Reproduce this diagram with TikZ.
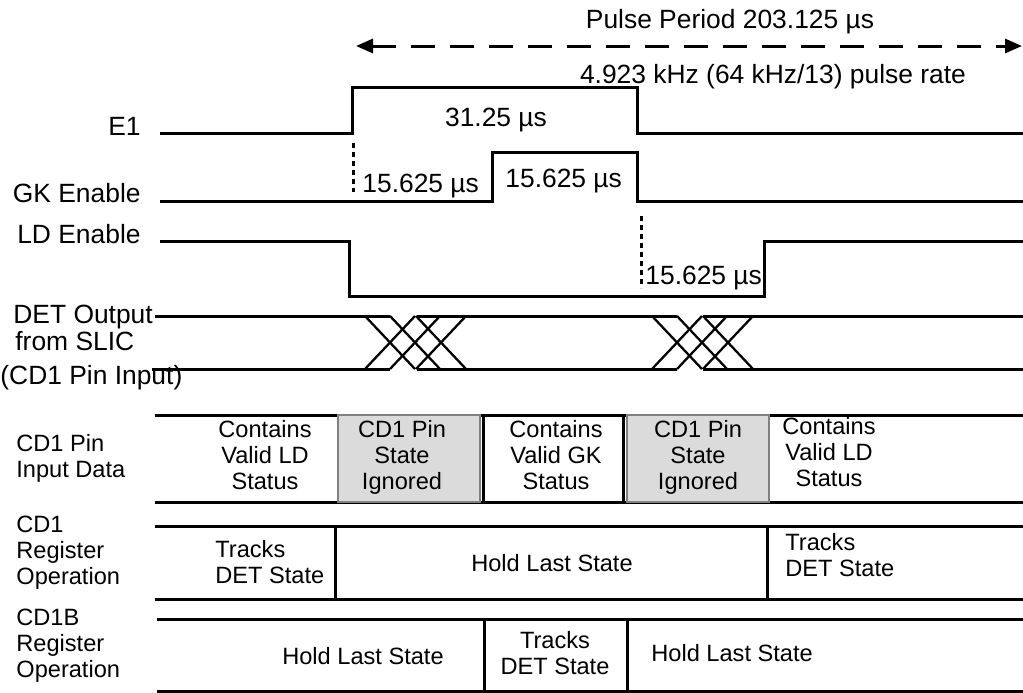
\documentclass[tikz,border=0pt]{standalone}
\usepackage{fontspec}
\setmainfont{Liberation Sans}
\usetikzlibrary{arrows.meta}

\tikzset{
  sig/.style={black,line width=1.5pt},
  xsig/.style={black,line width=1.15pt},
  guide/.style={black,line width=1.5pt,dash pattern=on 2.5pt off 2pt},
  txt/.style={font=\fontsize{13.2}{13}\selectfont,text=black,inner sep=0pt},
  cell/.style={font=\fontsize{11.8}{13}\selectfont,text=black,inner sep=0pt},
  ignored/.style={fill=black!14,draw=black!50,line width=1.25pt},
}

\begin{document}
\begin{tikzpicture}[x=0.5pt,y=-0.5pt]
\useasboundingbox (0,0) rectangle (1023,692);

% pulse period
\coordinate (pl) at (356,46);
\coordinate (pr) at (1022,46);
\draw[sig,dash pattern=on 12pt off 7.5pt,{Triangle[length=8.5pt,width=7pt]}-{Triangle[length=8.5pt,width=7pt]}] (pl) -- (pr);
\node[txt,anchor=base] (period) at (730,28) {Pulse Period 203.125 µs};
\node[txt,anchor=base] (rate) at (773,83) {4.923 kHz (64 kHz/13) pulse rate};

% E1
\draw[sig] (160,133) -- (352,133) -- (352,87) -- (637,87) -- (637,133) -- (1023,133);
\node[txt,anchor=base east] (e1) at (141,135) {E1};
\node[txt,anchor=base] (e1width) at (496,126) {31.25 µs};

% GK enable
\draw[sig] (160,201) -- (492,201) -- (492,152) -- (637,152) -- (637,201) -- (1023,201);
\node[txt,anchor=base east] (gk) at (141,202) {GK Enable};
\draw[guide] (353,143) -- (353,192);
\node[txt,anchor=base west] (gkwidthA) at (362,192) {15.625 µs};
\node[txt,anchor=base west] (gkwidthB) at (505,187) {15.625 µs};

% LD enable
\draw[sig] (160,241) -- (349,241) -- (349,296) -- (764,296) -- (764,241) -- (1023,241);
\node[txt,anchor=base east] (ld) at (141,243) {LD Enable};
\draw[guide] (641,216) -- (641,288);
\node[txt,anchor=base west] (ldwidth) at (645,284) {15.625 µs};

% DET output
\node[txt,anchor=base west] (det) at (13,323) {DET Output};
\node[txt,anchor=base west] (slic) at (15,350) {from SLIC};
\node[txt,anchor=base west] (pin) at (0,384) {(CD1 Pin Input)};
\draw[sig] (155,316) -- (390,316);
\draw[sig] (417,316) -- (677,316);
\draw[sig] (703,316) -- (1023,316);
\draw[sig] (152,369) -- (390,369);
\draw[sig] (417,369) -- (677,369);
\draw[sig] (703,369) -- (1023,369);
\foreach \a in {365,652}
  \foreach \d in {0,25,51} {
    \draw[xsig] ({\a+\d},316) -- ({\a+\d+50},369);
    \draw[xsig] ({\a+\d},369) -- ({\a+\d+50},316);
  }

% CD1 pin input data
\node[cell,align=left,anchor=base west] (pinrow) at (16,477) {CD1 Pin\\Input Data};
\draw[sig] (155,415) -- (1023,415);
\draw[sig] (155,502) -- (1023,502);
\draw[sig] (483,415) -- (483,502);
\draw[sig] (623,415) -- (623,502);
\draw[ignored] (338,415) rectangle (480,502);
\draw[ignored] (627,415) rectangle (769,502);
\node[cell,align=center,anchor=base] (ldvalidA) at (265,489) {Contains\\Valid LD\\Status};
\node[cell,align=center,anchor=base] (ignA) at (402,489) {CD1 Pin\\State\\Ignored};
\node[cell,align=center,anchor=base] (gkvalid) at (556,489) {Contains\\Valid GK\\Status};
\node[cell,align=center,anchor=base] (ignB) at (698,489) {CD1 Pin\\State\\Ignored};
\node[cell,align=center,anchor=base] (ldvalidB) at (829,486) {Contains\\Valid LD\\Status};

% CD1 register
\node[cell,align=left,anchor=base west] (cdreg) at (16,584) {CD1\\Register\\Operation};
\draw[sig] (155,526) -- (1023,526);
\draw[sig] (155,599) -- (1023,599);
\draw[sig] (335,526) -- (335,599);
\draw[sig] (767,526) -- (767,599);
\node[cell,align=left,anchor=base west] (trackA) at (215,583) {Tracks\\DET State};
\node[cell,anchor=base] (holdA) at (552,571) {Hold Last State};
\node[cell,align=left,anchor=base west] (trackB) at (785,576) {Tracks\\DET State};

% CD1B register
\node[cell,align=left,anchor=base west] (cdbreg) at (16,677) {CD1B\\Register\\Operation};
\draw[sig] (157,619) -- (1023,619);
\draw[sig] (157,691) -- (1023,691);
\draw[sig] (484,619) -- (484,691);
\draw[sig] (627,619) -- (627,691);
\node[cell,anchor=base] (holdB) at (363,664) {Hold Last State};
\node[cell,align=center,anchor=base] (trackC) at (555,674) {Tracks\\DET State};
\node[cell,anchor=base west] (holdC) at (651,661) {Hold Last State};

\end{tikzpicture}
\end{document}
